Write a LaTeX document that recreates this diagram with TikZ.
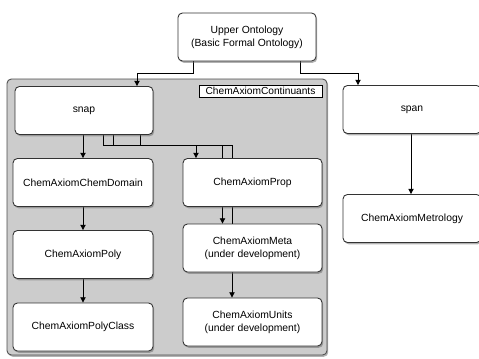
\documentclass[tikz,border=0pt]{standalone}
\usepackage{fontspec}
\setmainfont{Liberation Sans}
\usetikzlibrary{calc,shadows,arrows.meta}
\pgfdeclarelayer{bg}
\pgfdeclarelayer{edges}
\pgfsetlayers{bg,edges,main}
\begin{document}
\begin{tikzpicture}[x=0.02cm,y=-0.02cm,
	box/.style={draw=black!80,fill=white,line width=0.5pt,rounded corners=2.5pt,
		minimum width=2.76cm,minimum height=0.96cm,inner sep=0pt,align=center,
		font=\fontsize{5.9}{7.4}\selectfont,
		drop shadow={shadow xshift=0.7pt,shadow yshift=-1pt,fill=black!60,opacity=0.5}},
	group/.style={draw=black!70,fill=black!20,line width=0.5pt,rounded corners=2.5pt,
		drop shadow={shadow xshift=0.7pt,shadow yshift=-1pt,fill=black!60,opacity=0.5}},
	grouplabel/.style={draw=black,fill=white,line width=0.4pt,inner sep=0pt,
		minimum width=2.46cm,minimum height=0.24cm,font=\fontsize{5.8}{7}\selectfont},
	arr/.style={-{Triangle[length=3pt,width=3pt]},line width=0.5pt}]
	\useasboundingbox (0,0) rectangle (479,358);
	% container for the continuants
	\begin{pgfonlayer}{bg}
		\draw[group] (7,79) rectangle (327,355);
	\end{pgfonlayer}
	\node[grouplabel] (continuants) at (260.5,91) {ChemAxiomContinuants};
	% boxes
	\node[box] (upper) at (247,37) {Upper Ontology\\(Basic Formal Ontology)};
	\node[box] (snap) at (84,110.5) {snap};
	\node[box] (span) at (412,109.5) {span};
	\node[box] (metrology) at (412,218.5) {ChemAxiomMetrology};
	\node[box,minimum width=2.8cm] (chemdomain) at (83,182.5) {ChemAxiomChemDomain};
	\node[box,minimum width=2.8cm] (poly) at (83,254.5) {ChemAxiomPoly};
	\node[box,minimum width=2.8cm] (polyclass) at (83,327) {ChemAxiomPolyClass};
	\node[box,minimum width=2.78cm] (prop) at (252.5,182.5) {ChemAxiomProp};
	\node[box,minimum width=2.78cm] (meta) at (252.5,248) {ChemAxiomMeta\\(under development)};
	\node[box,minimum width=2.78cm] (units) at (252.5,322) {ChemAxiomUnits\\(under development)};
	% connectors, behind the boxes
	\begin{pgfonlayer}{edges}
		\draw[arr] ($(upper.south)+(-54,0)$) -- ++(0,12) -| ($(snap.north)+(53,0)$);
		\draw[arr] ($(upper.south)+(53,0)$) -- ++(0,12) -| ($(span.north)+(-54,0)$);
		\draw[arr] (chemdomain.north |- snap.south) -- (chemdomain.north);
		\draw[arr] ($(snap.south)+(19,0)$) -- ++(0,11) -| ($(prop.north)+(-56.5,0)$);
		\draw[arr] ($(snap.south)+(29,0)$) -- ++(0,11) -| ($(meta.north)+(-30,0)$);
		\draw[arr] ($(snap.south)+(56,0)$) -- ++(0,11) -| ($(units.north)+(-20.5,0)$);
		\draw[arr] (chemdomain.south) -- (poly.north);
		\draw[arr] (poly.south) -- (polyclass.north);
		\draw[arr] ($(span.south)+(-1,0)$) -- ($(metrology.north)+(-1,0)$);
	\end{pgfonlayer}
\end{tikzpicture}
\end{document}
